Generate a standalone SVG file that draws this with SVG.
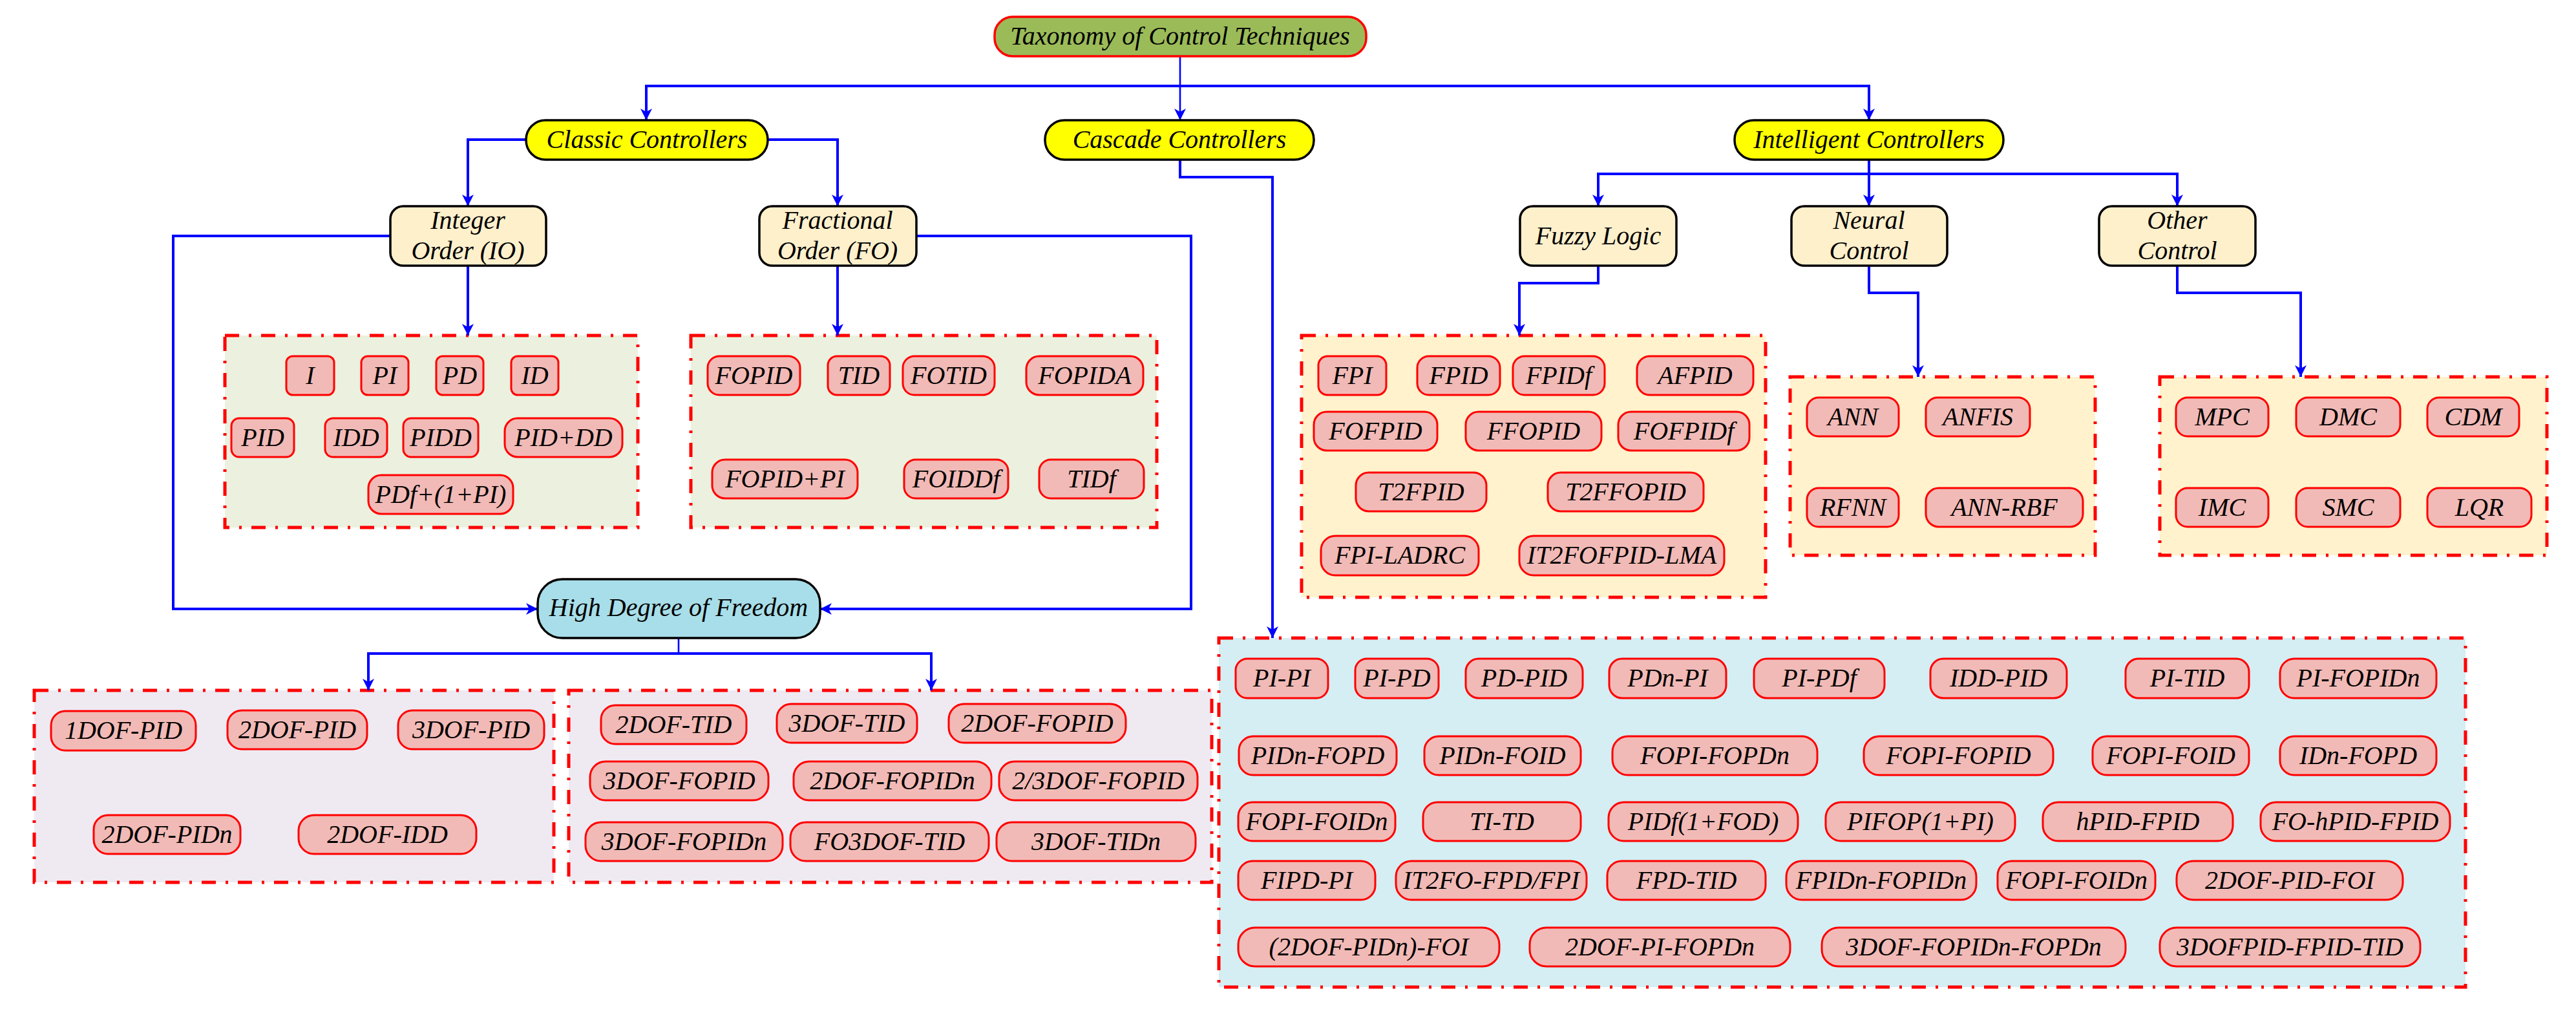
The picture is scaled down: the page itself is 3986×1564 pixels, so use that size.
<svg xmlns="http://www.w3.org/2000/svg" width="3986" height="1564" viewBox="0 0 3986 1564" font-family="Liberation Serif, serif" font-style="italic">
<style>
text{font-family:'Liberation Serif','DejaVu Serif',serif;font-style:italic;font-weight:normal;font-size:40px;text-anchor:middle;fill:#000}
.pill rect{fill:#F2BAB6;stroke:#FF0000;stroke-width:3}
.node rect{stroke:#000;stroke-width:3.5}
.grp{stroke:#FF0000;stroke-width:5;stroke-dasharray:22 15 4 15}
.conn path{fill:none;stroke:#0000FF;stroke-width:4}
.conn path.thin{stroke-width:2.6}
.c-io{fill:#EBF1DE}.c-int{fill:#FFF2CC}.c-dof{fill:#EFEAF2}.c-cas{fill:#D4EEF3}
</style>
<defs>
<marker id="ah" markerWidth="20" markerHeight="20" refX="18" refY="10" orient="auto" markerUnits="userSpaceOnUse"><path d="M0,1 L18,10 L0,19 L5,10 Z" fill="#0000FF"/></marker>
</defs>
<rect width="3986" height="1564" fill="#FFFFFF"/>

<g id="groups">
<rect class="grp c-io" x="348" y="519" width="639" height="297"/>
<rect class="grp c-io" x="1069" y="519" width="721" height="297"/>
<rect class="grp c-int" x="2014" y="519" width="718" height="405"/>
<rect class="grp c-int" x="2770" y="583" width="472" height="276"/>
<rect class="grp c-int" x="3342" y="583" width="599" height="276"/>
<rect class="grp c-dof" x="53" y="1068" width="804" height="297"/>
<rect class="grp c-dof" x="880" y="1068" width="995" height="297"/>
<rect class="grp c-cas" x="1886" y="987" width="1929" height="540"/>
</g>

<g id="connectors" class="conn">
<path class="thin" d="M1826,87 V186" marker-end="url(#ah)"/>
<path d="M1826,133 H1000 V186" marker-end="url(#ah)"/>
<path d="M1826,133 H2892 V186" marker-end="url(#ah)"/>
<path d="M814,216 H724 V319" marker-end="url(#ah)"/>
<path d="M1188,216 H1296 V319" marker-end="url(#ah)"/>
<path d="M724,411 V519" marker-end="url(#ah)"/>
<path d="M1296,411 V519" marker-end="url(#ah)"/>
<path d="M604,365 H268 V942 H832" marker-end="url(#ah)"/>
<path d="M1418,365 H1843 V942 H1269" marker-end="url(#ah)"/>
<path class="thin" d="M1050,987 V1011"/>
<path d="M1050,1011 H570 V1068" marker-end="url(#ah)"/>
<path d="M1050,1011 H1441 V1068" marker-end="url(#ah)"/>
<path d="M1826,247 V274 H1969 V987" marker-end="url(#ah)"/>
<path d="M2892,247 V319" marker-end="url(#ah)"/>
<path d="M2892,269 H2473 V319" marker-end="url(#ah)"/>
<path d="M2892,269 H3369 V319" marker-end="url(#ah)"/>
<path d="M2473,411 V438 H2351 V519" marker-end="url(#ah)"/>
<path d="M2892,411 V453 H2968 V583" marker-end="url(#ah)"/>
<path d="M3369,411 V453 H3560 V583" marker-end="url(#ah)"/>
</g>

<g id="n-title" class="node"><rect x="1539" y="26" width="575" height="61" rx="28" fill="#9BBB59" style="stroke:#FF0000"/><text x="1826" y="69">Taxonomy of Control Techniques</text></g>
<g id="n-classic" class="node"><rect x="814" y="186" width="374" height="61" rx="30" fill="#FFFF00"/><text x="1001" y="229">Classic Controllers</text></g>
<g id="n-cascade" class="node"><rect x="1617" y="186" width="416" height="61" rx="30" fill="#FFFF00"/><text x="1825" y="229">Cascade Controllers</text></g>
<g id="n-intelligent" class="node"><rect x="2684" y="186" width="416" height="61" rx="30" fill="#FFFF00"/><text x="2892" y="229">Intelligent Controllers</text></g>
<g id="n-integer" class="node"><rect x="604" y="319" width="241" height="92" rx="20" fill="#FFF0CC"/><text x="724" y="354">Integer</text><text x="724" y="401">Order (IO)</text></g>
<g id="n-fractional" class="node"><rect x="1175" y="319" width="243" height="92" rx="20" fill="#FFF0CC"/><text x="1296" y="354">Fractional</text><text x="1296" y="401">Order (FO)</text></g>
<g id="n-fuzzy" class="node"><rect x="2352" y="319" width="242" height="92" rx="20" fill="#FFF0CC"/><text x="2473" y="378">Fuzzy Logic</text></g>
<g id="n-neural" class="node"><rect x="2772" y="319" width="241" height="92" rx="20" fill="#FFF0CC"/><text x="2892" y="354">Neural</text><text x="2892" y="401">Control</text></g>
<g id="n-other" class="node"><rect x="3248" y="319" width="242" height="92" rx="20" fill="#FFF0CC"/><text x="3369" y="354">Other</text><text x="3369" y="401">Control</text></g>
<g id="n-hdof" class="node"><rect x="832" y="896" width="437" height="91" rx="38" fill="#A8DEE9"/><text x="1050" y="953">High Degree of Freedom</text></g>

<g id="io-I" class="pill"><rect x="443" y="551" width="74" height="60" rx="10"/><text x="480" y="594">I</text></g>
<g id="io-PI" class="pill"><rect x="559" y="551" width="73" height="60" rx="10"/><text x="595.5" y="594">PI</text></g>
<g id="io-PD" class="pill"><rect x="675" y="551" width="73" height="60" rx="10"/><text x="711.5" y="594">PD</text></g>
<g id="io-ID" class="pill"><rect x="791" y="551" width="73" height="60" rx="10"/><text x="827.5" y="594">ID</text></g>
<g id="io-PID" class="pill"><rect x="358" y="647" width="97" height="60" rx="12"/><text x="406.5" y="690">PID</text></g>
<g id="io-IDD" class="pill"><rect x="503" y="647" width="96" height="60" rx="12"/><text x="551" y="690">IDD</text></g>
<g id="io-PIDD" class="pill"><rect x="624" y="647" width="116" height="60" rx="12"/><text x="682" y="690">PIDD</text></g>
<g id="io-PIDDD" class="pill"><rect x="781" y="647" width="182" height="60" rx="20"/><text x="872" y="690">PID+DD</text></g>
<g id="io-PDf" class="pill"><rect x="570" y="735" width="224" height="60" rx="20"/><text x="682" y="778">PDf+(1+PI)</text></g>

<g id="fo-FOPID" class="pill"><rect x="1095" y="551" width="143" height="60" rx="18"/><text x="1166.5" y="594">FOPID</text></g>
<g id="fo-TID" class="pill"><rect x="1281" y="551" width="96" height="60" rx="14"/><text x="1329" y="594">TID</text></g>
<g id="fo-FOTID" class="pill"><rect x="1397" y="551" width="142" height="60" rx="18"/><text x="1468" y="594">FOTID</text></g>
<g id="fo-FOPIDA" class="pill"><rect x="1588" y="551" width="181" height="60" rx="20"/><text x="1678.5" y="594">FOPIDA</text></g>
<g id="fo-FOPIDPI" class="pill"><rect x="1102" y="711" width="225" height="60" rx="20"/><text x="1214.5" y="754">FOPID+PI</text></g>
<g id="fo-FOIDDf" class="pill"><rect x="1399" y="711" width="161" height="60" rx="18"/><text x="1479.5" y="754">FOIDDf</text></g>
<g id="fo-TIDf" class="pill"><rect x="1608" y="711" width="162" height="60" rx="18"/><text x="1689" y="754">TIDf</text></g>

<g id="fz-FPI" class="pill"><rect x="2040" y="551" width="105" height="60" rx="14"/><text x="2092.5" y="594">FPI</text></g>
<g id="fz-FPID" class="pill"><rect x="2193" y="551" width="128" height="60" rx="18"/><text x="2257" y="594">FPID</text></g>
<g id="fz-FPIDf" class="pill"><rect x="2341" y="551" width="142" height="60" rx="18"/><text x="2412" y="594">FPIDf</text></g>
<g id="fz-AFPID" class="pill"><rect x="2533" y="551" width="180" height="60" rx="20"/><text x="2623" y="594">AFPID</text></g>
<g id="fz-FOFPID" class="pill"><rect x="2033" y="637" width="191" height="60" rx="20"/><text x="2128.5" y="680">FOFPID</text></g>
<g id="fz-FFOPID" class="pill"><rect x="2268" y="637" width="210" height="60" rx="20"/><text x="2373" y="680">FFOPID</text></g>
<g id="fz-FOFPIDf" class="pill"><rect x="2504" y="637" width="203" height="60" rx="20"/><text x="2605.5" y="680">FOFPIDf</text></g>
<g id="fz-T2FPID" class="pill"><rect x="2098" y="731" width="202" height="60" rx="20"/><text x="2199" y="774">T2FPID</text></g>
<g id="fz-T2FFOPID" class="pill"><rect x="2395" y="731" width="241" height="60" rx="20"/><text x="2515.5" y="774">T2FFOPID</text></g>
<g id="fz-FPILADRC" class="pill"><rect x="2044" y="829" width="244" height="61" rx="22"/><text x="2166" y="872">FPI-LADRC</text></g>
<g id="fz-IT2" class="pill"><rect x="2351" y="829" width="317" height="61" rx="22"/><text x="2509.5" y="872">IT2FOFPID-LMA</text></g>

<g id="nn-ANN" class="pill"><rect x="2796" y="615" width="142" height="60" rx="18"/><text x="2867" y="658">ANN</text></g>
<g id="nn-ANFIS" class="pill"><rect x="2980" y="615" width="161" height="60" rx="18"/><text x="3060.5" y="658">ANFIS</text></g>
<g id="nn-RFNN" class="pill"><rect x="2796" y="755" width="142" height="60" rx="18"/><text x="2867" y="798">RFNN</text></g>
<g id="nn-ANNRBF" class="pill"><rect x="2980" y="755" width="243" height="60" rx="20"/><text x="3101.5" y="798">ANN-RBF</text></g>

<g id="ot-MPC" class="pill"><rect x="3367" y="615" width="143" height="60" rx="18"/><text x="3438.5" y="658">MPC</text></g>
<g id="ot-DMC" class="pill"><rect x="3553" y="615" width="161" height="60" rx="18"/><text x="3633.5" y="658">DMC</text></g>
<g id="ot-CDM" class="pill"><rect x="3756" y="615" width="142" height="60" rx="18"/><text x="3827" y="658">CDM</text></g>
<g id="ot-IMC" class="pill"><rect x="3367" y="755" width="143" height="60" rx="18"/><text x="3438.5" y="798">IMC</text></g>
<g id="ot-SMC" class="pill"><rect x="3553" y="755" width="161" height="60" rx="18"/><text x="3633.5" y="798">SMC</text></g>
<g id="ot-LQR" class="pill"><rect x="3756" y="755" width="161" height="60" rx="18"/><text x="3836.5" y="798">LQR</text></g>

<g id="dof-1PID" class="pill"><rect x="79" y="1100" width="224" height="61" rx="22"/><text x="191" y="1143">1DOF-PID</text></g>
<g id="dof-2PID" class="pill"><rect x="352" y="1099" width="216" height="60" rx="22"/><text x="460" y="1142">2DOF-PID</text></g>
<g id="dof-3PID" class="pill"><rect x="616" y="1099" width="226" height="60" rx="22"/><text x="729" y="1142">3DOF-PID</text></g>
<g id="dof-2PIDn" class="pill"><rect x="145" y="1261" width="227" height="60" rx="22"/><text x="258.5" y="1304">2DOF-PIDn</text></g>
<g id="dof-2IDD" class="pill"><rect x="462" y="1261" width="275" height="60" rx="24"/><text x="599.5" y="1304">2DOF-IDD</text></g>

<g id="dof-2TID" class="pill"><rect x="930" y="1091" width="225" height="60" rx="22"/><text x="1042.5" y="1134">2DOF-TID</text></g>
<g id="dof-3TID" class="pill"><rect x="1202" y="1089" width="217" height="60" rx="22"/><text x="1310.5" y="1132">3DOF-TID</text></g>
<g id="dof-2FOPID" class="pill"><rect x="1468" y="1089" width="274" height="60" rx="24"/><text x="1605" y="1132">2DOF-FOPID</text></g>
<g id="dof-3FOPID" class="pill"><rect x="913" y="1178" width="276" height="60" rx="24"/><text x="1051" y="1221">3DOF-FOPID</text></g>
<g id="dof-2FOPIDn" class="pill"><rect x="1228" y="1178" width="306" height="60" rx="24"/><text x="1381" y="1221">2DOF-FOPIDn</text></g>
<g id="dof-23FOPID" class="pill"><rect x="1546" y="1178" width="307" height="60" rx="24"/><text x="1699.5" y="1221">2/3DOF-FOPID</text></g>
<g id="dof-3FOPIDn" class="pill"><rect x="906" y="1272" width="305" height="60" rx="24"/><text x="1058.5" y="1315">3DOF-FOPIDn</text></g>
<g id="dof-FO3TID" class="pill"><rect x="1223" y="1272" width="307" height="60" rx="24"/><text x="1376.5" y="1315">FO3DOF-TID</text></g>
<g id="dof-3TIDn" class="pill"><rect x="1542" y="1272" width="308" height="60" rx="24"/><text x="1696" y="1315">3DOF-TIDn</text></g>

<g id="cs-PIPI" class="pill"><rect x="1912" y="1019" width="143" height="61" rx="18"/><text x="1983.5" y="1062">PI-PI</text></g>
<g id="cs-PIPD" class="pill"><rect x="2097" y="1019" width="129" height="61" rx="18"/><text x="2161.5" y="1062">PI-PD</text></g>
<g id="cs-PDPID" class="pill"><rect x="2268" y="1019" width="181" height="61" rx="20"/><text x="2358.5" y="1062">PD-PID</text></g>
<g id="cs-PDnPI" class="pill"><rect x="2490" y="1019" width="181" height="61" rx="20"/><text x="2580.5" y="1062">PDn-PI</text></g>
<g id="cs-PIPDf" class="pill"><rect x="2714" y="1019" width="202" height="61" rx="20"/><text x="2815" y="1062">PI-PDf</text></g>
<g id="cs-IDDPID" class="pill"><rect x="2987" y="1019" width="211" height="61" rx="20"/><text x="3092.5" y="1062">IDD-PID</text></g>
<g id="cs-PITID" class="pill"><rect x="3289" y="1019" width="191" height="61" rx="20"/><text x="3384.5" y="1062">PI-TID</text></g>
<g id="cs-PIFOPIDn" class="pill"><rect x="3528" y="1019" width="242" height="61" rx="22"/><text x="3649" y="1062">PI-FOPIDn</text></g>

<g id="cs-PIDnFOPD" class="pill"><rect x="1917" y="1139" width="244" height="60" rx="22"/><text x="2039" y="1182">PIDn-FOPD</text></g>
<g id="cs-PIDnFOID" class="pill"><rect x="2204" y="1139" width="242" height="60" rx="22"/><text x="2325" y="1182">PIDn-FOID</text></g>
<g id="cs-FOPIFOPDn" class="pill"><rect x="2495" y="1139" width="317" height="60" rx="24"/><text x="2653.5" y="1182">FOPI-FOPDn</text></g>
<g id="cs-FOPIFOPID" class="pill"><rect x="2884" y="1139" width="293" height="60" rx="24"/><text x="3030.5" y="1182">FOPI-FOPID</text></g>
<g id="cs-FOPIFOID" class="pill"><rect x="3238" y="1139" width="242" height="60" rx="22"/><text x="3359" y="1182">FOPI-FOID</text></g>
<g id="cs-IDnFOPD" class="pill"><rect x="3528" y="1139" width="242" height="60" rx="22"/><text x="3649" y="1182">IDn-FOPD</text></g>

<g id="cs-FOPIFOIDn" class="pill"><rect x="1916" y="1241" width="243" height="60" rx="22"/><text x="2037.5" y="1284">FOPI-FOIDn</text></g>
<g id="cs-TITD" class="pill"><rect x="2202" y="1241" width="244" height="60" rx="22"/><text x="2324" y="1284">TI-TD</text></g>
<g id="cs-PIDf1FOD" class="pill"><rect x="2489" y="1241" width="293" height="60" rx="24"/><text x="2635.5" y="1284">PIDf(1+FOD)</text></g>
<g id="cs-PIFOP1PI" class="pill"><rect x="2825" y="1241" width="293" height="60" rx="24"/><text x="2971.5" y="1284">PIFOP(1+PI)</text></g>
<g id="cs-hPIDFPID" class="pill"><rect x="3161" y="1241" width="294" height="60" rx="24"/><text x="3308" y="1284">hPID-FPID</text></g>
<g id="cs-FOhPIDFPID" class="pill"><rect x="3498" y="1241" width="293" height="60" rx="24"/><text x="3644.5" y="1284">FO-hPID-FPID</text></g>

<g id="cs-FIPDPI" class="pill"><rect x="1916" y="1332" width="212" height="60" rx="22"/><text x="2022" y="1375">FIPD-PI</text></g>
<g id="cs-IT2FO" class="pill"><rect x="2160" y="1332" width="295" height="60" rx="24"/><text x="2307.5" y="1375">IT2FO-FPD/FPI</text></g>
<g id="cs-FPDTID" class="pill"><rect x="2487" y="1332" width="245" height="60" rx="22"/><text x="2609.5" y="1375">FPD-TID</text></g>
<g id="cs-FPIDnFOPIDn" class="pill"><rect x="2764" y="1332" width="294" height="60" rx="24"/><text x="2911" y="1375">FPIDn-FOPIDn</text></g>
<g id="cs-FOPIFOIDn2" class="pill"><rect x="3091" y="1332" width="244" height="60" rx="22"/><text x="3213" y="1375">FOPI-FOIDn</text></g>
<g id="cs-2DOFPIDFOI" class="pill"><rect x="3368" y="1332" width="350" height="60" rx="26"/><text x="3543" y="1375">2DOF-PID-FOI</text></g>

<g id="cs-2DOFPIDnFOI" class="pill"><rect x="1916" y="1435" width="404" height="60" rx="26"/><text x="2118" y="1478">(2DOF-PIDn)-FOI</text></g>
<g id="cs-2DOFPIFOPDn" class="pill"><rect x="2367" y="1435" width="403" height="60" rx="26"/><text x="2568.5" y="1478">2DOF-PI-FOPDn</text></g>
<g id="cs-3DOFFOPIDnFOPDn" class="pill"><rect x="2819" y="1435" width="470" height="60" rx="26"/><text x="3054" y="1478">3DOF-FOPIDn-FOPDn</text></g>
<g id="cs-3DOFPIDFPIDTID" class="pill"><rect x="3342" y="1435" width="403" height="60" rx="26"/><text x="3543.5" y="1478">3DOFPID-FPID-TID</text></g>
</svg>
